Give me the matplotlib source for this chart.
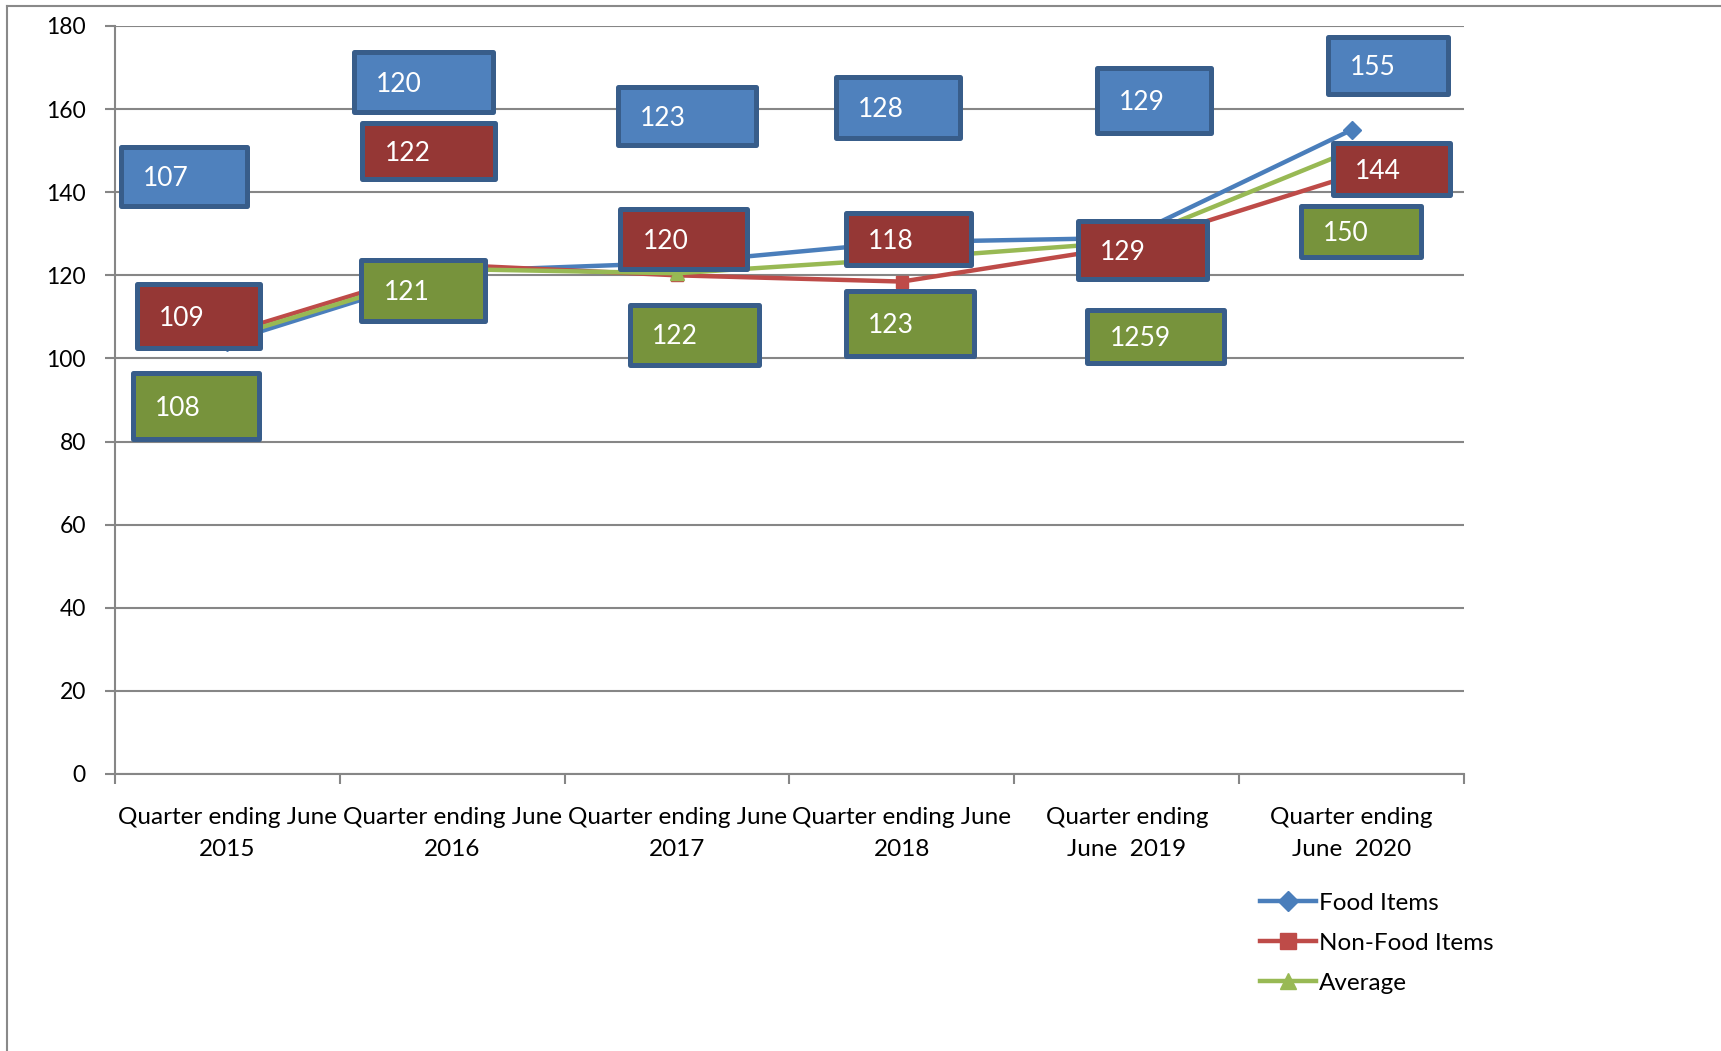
import matplotlib
matplotlib.use("Agg")
import matplotlib.pyplot as plt
from matplotlib.patches import Rectangle
from matplotlib.lines import Line2D

plt.rcParams['font.family'] = ['Lato', 'DejaVu Sans']

# ---------------- data ----------------
categories = ["Quarter ending June\n2015", "Quarter ending June\n2016",
              "Quarter ending June\n2017", "Quarter ending June\n2018",
              "Quarter ending\nJune  2019", "Quarter ending\nJune  2020"]
food = [104, 121, 123, 128, 129, 155]
nonfood = [106, 122.5, 120, 118.5, 127, 144]
average = [105, 121.5, 120.5, 124, 128, 150]

food_labels = ["107", "120", "123", "128", "129", "155"]
nonfood_labels = ["109", "122", "120", "118", "129", "144"]
average_labels = ["108", "121", "122", "123", "1259", "150"]

yticks = [0, 20, 40, 60, 80, 100, 120, 140, 160, 180]

# ---------------- layout (label box centres in data units, sizes in px) ----------------
food_box_xy = [(-0.192, 143.8), (0.872, 166.5), (2.044, 158.3), (2.981, 160.4), (4.123, 162.0), (5.163, 170.5)]
nonfood_box_xy = [(-0.129, 110.2), (0.896, 149.9), (2.029, 128.7), (3.030, 128.7), (4.070, 126.1), (5.178, 145.6)]
average_box_xy = [(-0.139, 88.5), (0.872, 116.3), (2.078, 105.7), (3.035, 108.4), (4.128, 105.2), (5.041, 130.6)]
food_box_wh = [(115, 54), (126, 54), (125, 53), (113, 56), (104, 59), (109, 52)]
nonfood_box_wh = [(112, 58), (121, 51), (115, 55), (114, 47), (117, 52), (107, 47)]
average_box_wh = [(115, 60), (113, 56), (117, 55), (117, 60), (124, 48), (109, 46)]

W, H = 1721, 1051
fig = plt.figure(figsize=(W / 100, H / 100), dpi=100)
ax = fig.add_axes([115 / W, 1 - 774 / H, (1464 - 115) / W, (774 - 26) / H])

grid_c = "#868686"
x = list(range(len(categories)))

line_blue, line_red, line_green = "#4A7EBB", "#BE4B48", "#98B954"
ax.plot(x, food, color=line_blue, lw=3.2, marker="D", ms=9, zorder=3, label="Food Items")
ax.plot(x, nonfood, color=line_red, lw=3.2, marker="s", ms=9, zorder=3, label="Non-Food Items")
ax.plot(x, average, color=line_green, lw=3.2, marker="^", ms=10, zorder=3, label="Average")

ax.set_xlim(-0.5, len(categories) - 0.5)
ax.set_ylim(0, 180)
ax.set_yticks(yticks)
ax.yaxis.grid(True, color=grid_c, lw=1.5)
ax.set_axisbelow(True)
ax.tick_params(axis="y", labelsize=16.5, length=7, width=1.5, color=grid_c, pad=14)

ax.set_xticks([i - 0.5 for i in range(len(categories) + 1)])
ax.set_xticklabels([])
ax.set_xticks(x, minor=True)
ax.set_xticklabels(categories, minor=True, fontsize=17.5)
ax.tick_params(axis="x", which="major", length=7, width=1.5, color=grid_c)
ax.tick_params(axis="x", which="minor", length=0, pad=24)
for t in ax.get_xticklabels(minor=True):
    t.set_multialignment("center")
    t.set_linespacing(1.6)

ax.spines["top"].set_visible(False)
ax.spines["right"].set_visible(False)
for s in ["left", "bottom"]:
    ax.spines[s].set_color(grid_c)
    ax.spines[s].set_linewidth(1.5)

# pixel -> data scale
bb = ax.get_window_extent()
px_x = bb.width / (ax.get_xlim()[1] - ax.get_xlim()[0])
px_y = bb.height / (ax.get_ylim()[1] - ax.get_ylim()[0])
S = W / 1568

def draw_boxes(labels, centres, sizes, fill):
    for lab, (cx, cy), (w, h) in zip(labels, centres, sizes):
        wd = w * S / px_x
        hd = h * S / px_y
        r = Rectangle((cx - wd / 2, cy - hd / 2), wd, hd, facecolor=fill,
                      edgecolor="#385D8A", lw=3.6, joinstyle="round", zorder=5, clip_on=False)
        ax.add_patch(r)
        ax.text(cx - wd / 2 + 20 * S / px_x, cy - 0.5, lab, color="white", fontsize=19,
                ha="left", va="center", zorder=6, clip_on=False)

draw_boxes(food_labels, food_box_xy, food_box_wh, "#4F81BD")
draw_boxes(nonfood_labels, nonfood_box_xy, nonfood_box_wh, "#953735")
draw_boxes(average_labels, average_box_xy, average_box_wh, "#77933C")

handles = [Line2D([], [], color=line_blue, lw=3.2, marker="D", ms=10),
           Line2D([], [], color=line_red, lw=3.2, marker="s", ms=11),
           Line2D([], [], color=line_green, lw=3.2, marker="^", ms=11)]
fig.legend(handles, ["Food Items", "Non-Food Items", "Average"], loc="upper left",
           bbox_to_anchor=(1250 / W, 1 - 883 / H), frameon=False, fontsize=17.5,
           handlelength=2.3, handletextpad=0.15, labelspacing=0.78, borderaxespad=0)

# outer chart border (top and left visible)
fig.add_artist(Line2D([7 / W, 1], [1 - 6 / H, 1 - 6 / H], color="#898989", lw=1.5,
                      transform=fig.transFigure))
fig.add_artist(Line2D([7 / W, 7 / W], [0, 1 - 6 / H], color="#898989", lw=1.5,
                      transform=fig.transFigure))

fig.savefig("out.png", dpi=100, facecolor="white")
